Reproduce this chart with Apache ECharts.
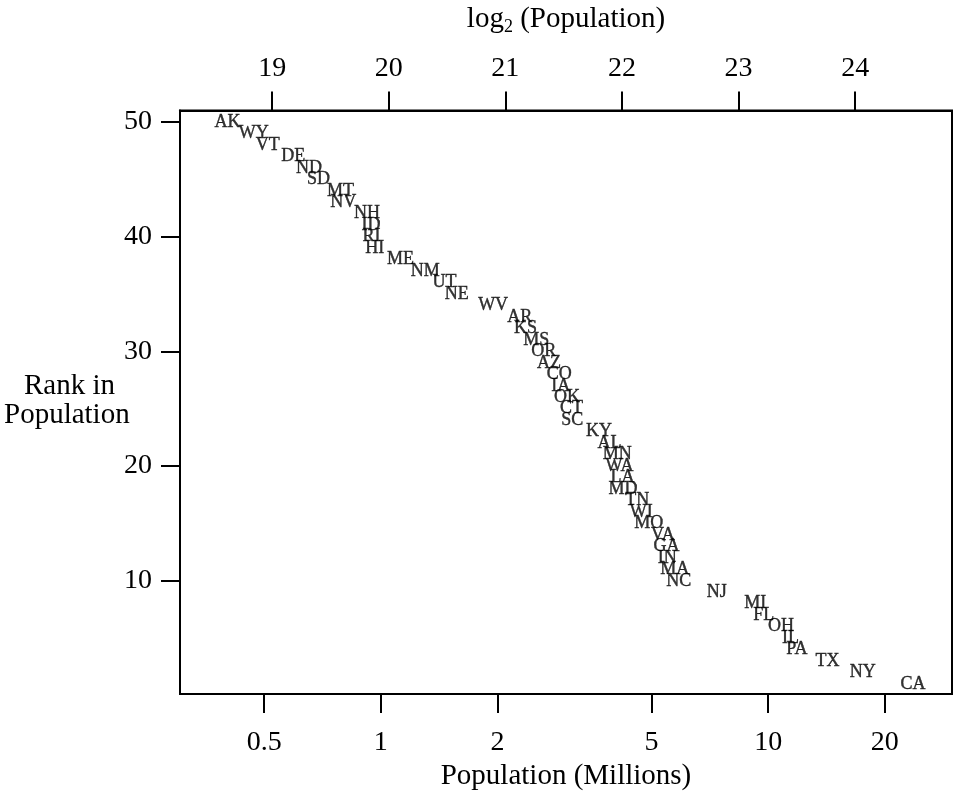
<!DOCTYPE html>
<html>
<head>
<meta charset="utf-8">
<script src="https://cdn.jsdelivr.net/npm/echarts@6/dist/echarts.min.js"></script>
<style>
  html, body { margin: 0; padding: 0; background: #fff; }
  #chart { width: 957px; height: 796px; }
</style>
</head>
<body>
<div id="chart"></div>
<script>
// 1980 census, states ranked by population
const states = ['CA', 'NY', 'TX', 'PA', 'IL', 'OH', 'FL', 'MI', 'NJ', 'NC',
  'MA', 'IN', 'GA', 'VA', 'MO', 'WI', 'TN', 'MD', 'LA', 'WA',
  'MN', 'AL', 'KY', 'SC', 'CT', 'OK', 'IA', 'CO', 'AZ', 'OR',
  'MS', 'KS', 'AR', 'WV', 'NE', 'UT', 'NM', 'ME', 'HI', 'RI',
  'ID', 'NH', 'NV', 'MT', 'SD', 'ND', 'DE', 'VT', 'WY', 'AK'];
const populationMillions = [23.668, 17.558, 14.229, 11.864, 11.427, 10.798, 9.746, 9.262, 7.365, 5.882,
  5.737, 5.490, 5.463, 5.347, 4.917, 4.706, 4.591, 4.217, 4.206, 4.132,
  4.076, 3.894, 3.661, 3.122, 3.108, 3.025, 2.914, 2.890, 2.718, 2.633,
  2.521, 2.364, 2.286, 1.950, 1.570, 1.461, 1.303, 1.125, 0.965, 0.947,
  0.944, 0.921, 0.800, 0.787, 0.691, 0.653, 0.594, 0.511, 0.470, 0.402];
const ranks = [1, 2, 3, 4, 5, 6, 7, 8, 9, 10,
  11, 12, 13, 14, 15, 16, 17, 18, 19, 20,
  21, 22, 23, 24, 25, 26, 27, 28, 29, 30,
  31, 32, 33, 34, 35, 36, 37, 38, 39, 40,
  41, 42, 43, 44, 45, 46, 47, 48, 49, 50];

const log2Ticks = [19, 20, 21, 22, 23, 24];
const millionTicks = [0.5, 1, 2, 5, 10, 20];
const rankTicks = [10, 20, 30, 40, 50];

const toLog2 = m => Math.log2(m * 1e6);
const millionTickPos = millionTicks.map(toLog2);

const serif = 'Liberation Serif';
const ink = '#000';

const chart = echarts.init(document.getElementById('chart'));

const axisCommon = {
  type: 'value',
  min: 18.21,
  max: 24.83,
  splitLine: { show: false },
  axisLine: { show: true, lineStyle: { color: ink, width: 2 } },
  axisTick: { show: true, length: 19, lineStyle: { color: ink, width: 2 } }
};

chart.setOption({
  animation: false,
  backgroundColor: '#fff',
  grid: {
    left: 180, right: 5, top: 108, bottom: 97,
    show: true, borderColor: ink, borderWidth: 2
  },
  graphic: [
    {
      type: 'text', left: 24, top: 372,
      style: { text: 'Rank in', font: '29px "Liberation Serif"', fill: ink }
    },
    {
      type: 'text', left: 4, top: 401,
      style: { text: 'Population', font: '29px "Liberation Serif"', fill: ink }
    }
  ],
  xAxis: [
    Object.assign({}, axisCommon, {
      position: 'bottom',
      name: 'Population (Millions)',
      nameLocation: 'middle',
      nameGap: 65,
      nameTextStyle: { fontFamily: serif, fontSize: 29, color: ink },
      axisTick: Object.assign({}, axisCommon.axisTick, { customValues: millionTickPos }),
      axisLabel: {
        customValues: millionTickPos,
        margin: 35,
        fontFamily: serif, fontSize: 28, color: ink,
        formatter: v => String(Math.round(Math.pow(2, v) / 1e5) / 10)
      }
    }),
    Object.assign({}, axisCommon, {
      position: 'top',
      name: '{n|log}{s|2}{n| (Population)}',
      nameLocation: 'middle',
      nameGap: 74,
      nameTextStyle: {
        rich: {
          n: { fontFamily: serif, fontSize: 29, color: ink, lineHeight: 34 },
          s: { fontFamily: serif, fontSize: 18, color: ink, lineHeight: 18, verticalAlign: 'bottom' }
        }
      },
      axisTick: Object.assign({}, axisCommon.axisTick, { customValues: log2Ticks }),
      axisLabel: {
        customValues: log2Ticks,
        margin: 28,
        fontFamily: serif, fontSize: 28, color: ink
      }
    })
  ],
  yAxis: {
    type: 'value',
    min: 0.12,
    max: 51.0,
    splitLine: { show: false },
    axisLine: { show: true, lineStyle: { color: ink, width: 2 } },
    axisTick: { show: true, length: 19, customValues: rankTicks, lineStyle: { color: ink, width: 2 } },
    axisLabel: {
      customValues: rankTicks,
      margin: 28,
      fontFamily: serif, fontSize: 28, color: ink
    }
  },
  series: [{
    type: 'scatter',
    xAxisIndex: 0,
    symbolSize: 1,
    itemStyle: { color: 'rgba(0,0,0,0)' },
    label: {
      show: true,
      position: 'inside',
      formatter: p => p.data[2],
      fontFamily: serif,
      fontSize: 18,
      color: ink,
      textBorderColor: ink,
      textBorderWidth: 0.4
    },
    emphasis: { disabled: true },
    data: states.map((s, i) => [toLog2(populationMillions[i]), ranks[i], s])
  }]
});
</script>
</body>
</html>
